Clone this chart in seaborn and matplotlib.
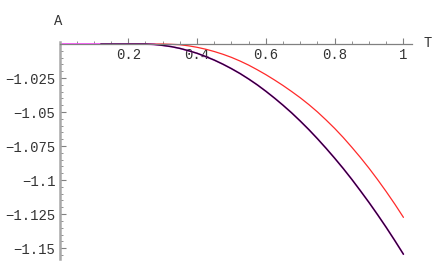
import matplotlib
matplotlib.use("Agg")
import matplotlib.pyplot as plt
import seaborn as sns
import pandas as pd

# ---- data ----
x_vals = [0.0, 0.05, 0.10, 0.15, 0.20, 0.25, 0.275, 0.30, 0.325, 0.35, 0.375,
          0.40, 0.425, 0.45, 0.475, 0.50, 0.525, 0.55, 0.575, 0.60, 0.625,
          0.65, 0.675, 0.70, 0.725, 0.75, 0.775, 0.80, 0.825, 0.85, 0.875,
          0.90, 0.925, 0.95, 0.975, 1.00]
dark_vals = [-1.0, -1.0, -1.0, -1.0, -1.0, -1.0000, -1.0003, -1.0010, -1.0019,
             -1.0032, -1.0049, -1.0068, -1.0092, -1.0118, -1.0148, -1.0181,
             -1.0217, -1.0257, -1.0300, -1.0347, -1.0397, -1.0450, -1.0506,
             -1.0566, -1.0629, -1.0696, -1.0766, -1.0839, -1.0915, -1.0995,
             -1.1079, -1.1165, -1.1255, -1.1348, -1.1445, -1.1545]
red_vals = [-1.0, -1.0, -1.0, -1.0, -1.0, -1.0, -1.0, -1.0000, -1.0002,
            -1.0005, -1.0013, -1.0024, -1.0038, -1.0055, -1.0075, -1.0098,
            -1.0125, -1.0155, -1.0189, -1.0225, -1.0264, -1.0305, -1.0349,
            -1.0395, -1.0445, -1.0499, -1.0558, -1.0620, -1.0687, -1.0759,
            -1.0834, -1.0913, -1.0997, -1.1085, -1.1177, -1.1274]
x_ticks = [0.2, 0.4, 0.6, 0.8, 1.0]
x_tick_labels = ["0.2", "0.4", "0.6", "0.8", "1"]
y_ticks = [-1.025, -1.05, -1.075, -1.1, -1.125, -1.15]
y_tick_labels = ["\u22121.025", "\u22121.05", "\u22121.075", "\u22121.1", "\u22121.125", "\u22121.15"]

sns.set_style("white")
plt.rcParams['font.family'] = ['Liberation Mono', 'DejaVu Sans Mono']

fig = plt.figure(figsize=(4.36, 2.70), dpi=100)
W, H = 436, 270
ax = fig.add_axes([59.5 / W, 11 / H, (411.7 - 59.5) / W, (259 - 42) / H])

red_df = pd.DataFrame({"x": x_vals, "y": red_vals})
red_df = red_df[red_df.x >= 0.2]
mag_df = pd.DataFrame({"x": x_vals, "y": dark_vals})
mag_df.loc[0, "x"] = 0.007
dark_df = pd.DataFrame({"x": x_vals, "y": dark_vals})
dark_df = dark_df[dark_df.x >= 0.1].copy()
dark_df.loc[dark_df.index[0], "x"] = 0.12

sns.lineplot(data=red_df, x="x", y="y", color="#ff2a2a", lw=0.9, ax=ax)
sns.lineplot(data=mag_df, x="x", y="y", color="#ff44ff", lw=1.25, ax=ax)
sns.lineplot(data=dark_df, x="x", y="y", color="#260630", lw=1.0, ax=ax)

ax.set_xlim(0, 1.024)
ax.set_ylim(-1.158, -0.9985)
ax.set_xlabel("")
ax.set_ylabel("")

for s in ["top", "right"]:
    ax.spines[s].set_visible(False)
ax.spines["bottom"].set_position(("data", -1.0))
ax.spines["bottom"].set_color("#808080")
ax.spines["bottom"].set_linewidth(0.9)
ax.spines["left"].set_color("#a8a8a8")
ax.spines["left"].set_linewidth(1.8)

ax.set_xticks(x_ticks)
ax.set_xticklabels(x_tick_labels)
ax.set_xticks([0.05, 0.1, 0.15, 0.25, 0.3, 0.35, 0.45, 0.5, 0.55, 0.65, 0.7, 0.75,
               0.85, 0.9, 0.95], minor=True)
ax.set_yticks(y_ticks)
ax.set_yticklabels(y_tick_labels)
ax.set_yticks([-1.005, -1.01, -1.015, -1.02, -1.03, -1.035, -1.04, -1.045,
               -1.055, -1.06, -1.065, -1.07, -1.08, -1.085, -1.09, -1.095,
               -1.105, -1.11, -1.115, -1.12, -1.13, -1.135, -1.14, -1.145,
               -1.155], minor=True)

ax.tick_params(axis="both", which="major", direction="in", length=4, width=0.8,
               color="#808080", labelsize=10, labelcolor="#333333", pad=3)
ax.tick_params(axis="both", which="minor", direction="in", length=2, width=0.6,
               color="#808080")
ax.tick_params(axis="x", which="both", bottom=True, top=False)
ax.tick_params(axis="y", which="both", left=True, right=False)

fig.text(58 / W, 1 - 21 / H, "A", ha="center", va="center", fontsize=10, color="#333333")
fig.text(428 / W, 1 - 43 / H, "T", ha="center", va="center", fontsize=10, color="#333333")

fig.savefig("out.png", dpi=100)
